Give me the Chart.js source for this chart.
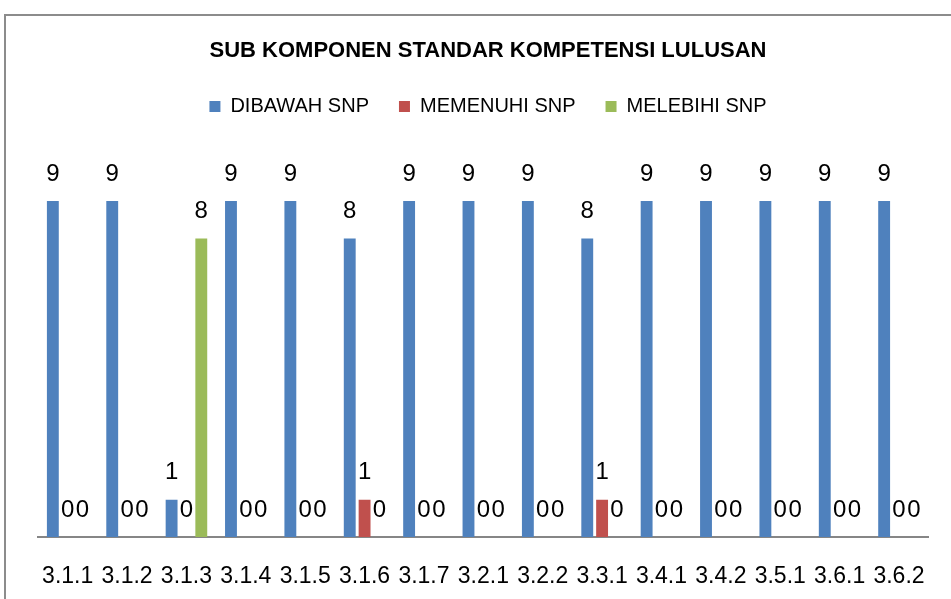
<!DOCTYPE html>
<html lang="id">
<head>
    <meta charset="UTF-8">
    <title>Sub Komponen Standar Kompetensi Lulusan</title>
    <script src="https://cdn.jsdelivr.net/npm/chart.js"></script>
    <style>
        body { margin: 0; background: #fff; overflow: hidden; }
        .frame {
            position: absolute; left: 4px; top: 14px;
            width: 1000px; height: 700px;
            border: 2px solid #8c8c8c;
        }
        #skl { position: absolute; left: 0; top: 0; }
    </style>
</head>
<body>
    <div class="frame"></div>
    <canvas id="skl" width="951" height="599"></canvas>
    <script>
    // data
    const categories = ['3.1.1', '3.1.2', '3.1.3', '3.1.4', '3.1.5', '3.1.6', '3.1.7', '3.2.1',
                        '3.2.2', '3.3.1', '3.4.1', '3.4.2', '3.5.1', '3.6.1', '3.6.2'];
    const dibawah  = [9, 9, 1, 9, 9, 8, 9, 9, 9, 8, 9, 9, 9, 9, 9];
    const memenuhi = [0, 0, 0, 0, 0, 1, 0, 0, 0, 1, 0, 0, 0, 0, 0];
    const melebihi = [0, 0, 8, 0, 0, 0, 0, 0, 0, 0, 0, 0, 0, 0, 0];

    const FONT = "'Liberation Sans', Arial, sans-serif";

    // angka di atas batang
    const valueLabels = {
        id: 'valueLabels',
        afterDatasetsDraw(chart) {
            const ctx = chart.ctx;
            ctx.save();
            ctx.font = '24px ' + FONT;
            ctx.fillStyle = '#000';
            ctx.textAlign = 'center';
            ctx.textBaseline = 'middle';
            chart.data.datasets.forEach((ds, i) => {
                chart.getDatasetMeta(i).data.forEach((bar, j) => {
                    ctx.fillText(String(ds.data[j]), bar.x, bar.y - 27);
                });
            });
            ctx.restore();
        }
    };

    const ctx = document.getElementById('skl').getContext('2d');
    new Chart(ctx, {
        type: 'bar',
        data: {
            labels: categories,
            datasets: [
                { label: 'DIBAWAH SNP', data: dibawah, backgroundColor: '#4F81BD' },
                { label: 'MEMENUHI SNP', data: memenuhi, backgroundColor: '#C0504D' },
                { label: 'MELEBIHI SNP', data: melebihi, backgroundColor: '#9BBB59' }
            ]
        },
        options: {
            responsive: false,
            animation: false,
            categoryPercentage: 0.75,
            barPercentage: 0.8,
            layout: { padding: { left: 38, right: 13, top: 0, bottom: 12 } },
            plugins: {
                title: {
                    display: true,
                    text: 'SUB KOMPONEN STANDAR KOMPETENSI LULUSAN',
                    color: '#000',
                    font: { family: FONT, size: 22, weight: 'bold' },
                    padding: { top: 38, bottom: 2 }
                },
                legend: {
                    position: 'top',
                    labels: {
                        color: '#000',
                        font: { family: FONT, size: 20 },
                        boxWidth: 11,
                        boxHeight: 11,
                        padding: 30
                    }
                },
                tooltip: { enabled: false }
            },
            scales: {
                x: {
                    grid: { display: false, drawTicks: false },
                    border: { display: true, color: '#868686', width: 2 },
                    ticks: { color: '#000', font: { family: FONT, size: 23 }, padding: 26, maxRotation: 0 },
                    afterFit(scale) { scale.height = 50; }
                },
                y: {
                    display: false,
                    min: 0,
                    max: 11
                }
            }
        },
        plugins: [valueLabels]
    });
    </script>
</body>
</html>
